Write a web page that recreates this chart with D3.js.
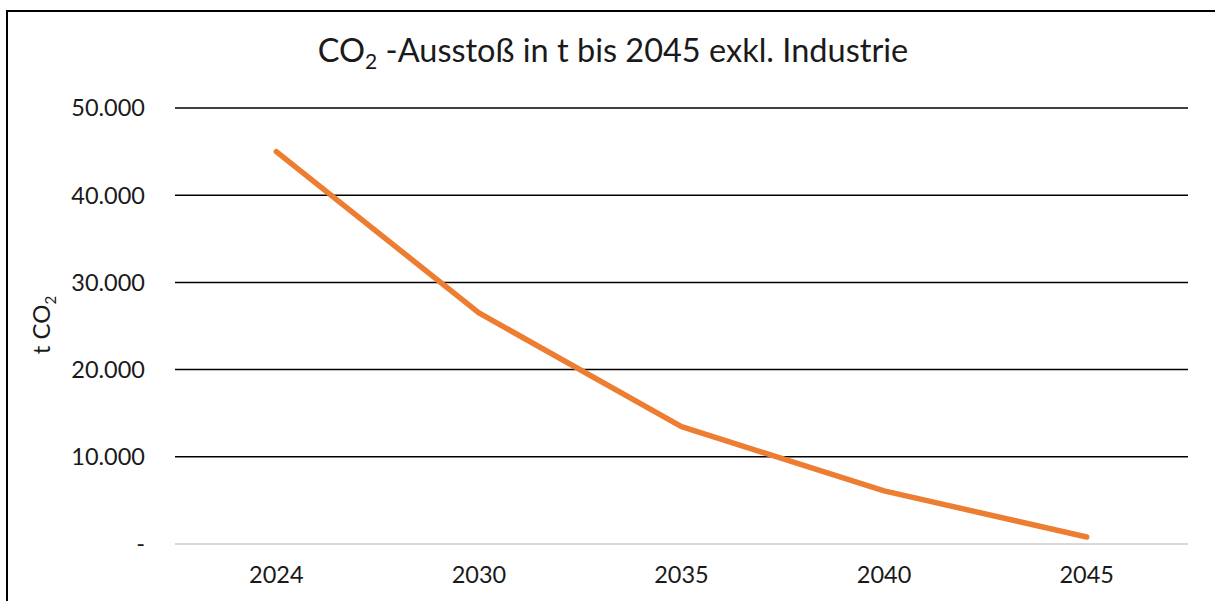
<!DOCTYPE html>
<html>
<head>
<meta charset="utf-8">
<script src="https://cdn.jsdelivr.net/npm/d3@7/dist/d3.min.js"></script>
<style>
  html, body { margin: 0; padding: 0; background: #fff; }
  svg { display: block; }
  text { font-family: Lato, "Open Sans", sans-serif; fill: #1a1a1a; }
</style>
</head>
<body>
<svg id="chart" width="1215" height="601"></svg>
<script>
// CO2 emissions path (t CO2), excluding industry
const years = ["2024", "2030", "2035", "2040", "2045"];
const emissions = [45000, 26500, 13450, 6100, 800];
const yTicks = [0, 10000, 20000, 30000, 40000, 50000];
const yTickLabels = ["-", "10.000", "20.000", "30.000", "40.000", "50.000"];

const svg = d3.select("#chart");
const margin = { left: 175, right: 27, top: 108, bottom: 57 };
const W = 1215, H = 601;

// outer frame of the chart area
svg.append("rect")
  .attr("x", 7).attr("y", 11)
  .attr("width", 1300).attr("height", 700)
  .attr("fill", "none").attr("stroke", "#000").attr("stroke-width", 2);

const x = d3.scaleBand().domain(years)
  .range([margin.left, W - margin.right]);
const y = d3.scaleLinear().domain([0, 50000])
  .range([H - margin.bottom, margin.top]);

// horizontal gridlines
svg.append("g").selectAll("line").data(yTicks).join("line")
  .attr("x1", margin.left).attr("x2", W - margin.right)
  .attr("y1", d => y(d)).attr("y2", d => y(d))
  .attr("stroke", d => d === 0 ? "#d9d9d9" : "#000")
  .attr("stroke-width", d => d === 0 ? 2 : 1.5);

// y tick labels
svg.append("g").selectAll("text").data(yTicks).join("text")
  .attr("x", 145).attr("y", d => y(d))
  .attr("dy", "0.36em")
  .attr("text-anchor", "end")
  .attr("font-size", 23.5)
  .text((d, i) => yTickLabels[i]);

// x category labels
svg.append("g").selectAll("text").data(years).join("text")
  .attr("x", d => x(d) + x.bandwidth() / 2)
  .attr("y", 583)
  .attr("text-anchor", "middle")
  .attr("font-size", 23.5)
  .text(d => d);

// emission line
const line = d3.line()
  .x((d, i) => x(years[i]) + x.bandwidth() / 2)
  .y(d => y(d));
svg.append("path").datum(emissions)
  .attr("d", line)
  .attr("fill", "none")
  .attr("stroke", "#ED7D31")
  .attr("stroke-width", 5.5)
  .attr("stroke-linecap", "round")
  .attr("stroke-linejoin", "round");

// title
const title = svg.append("text")
  .attr("x", 613).attr("y", 62)
  .attr("text-anchor", "middle")
  .attr("font-size", 32.5);
title.append("tspan").text("CO");
title.append("tspan").attr("font-size", 21).attr("dy", 7).text("2");
title.append("tspan").attr("dy", -7).text(" -Ausstoß in t bis 2045 exkl. Industrie");

// y axis title
const yTitle = svg.append("text")
  .attr("transform", "translate(50,325) rotate(-90)")
  .attr("text-anchor", "middle")
  .attr("font-size", 24);
yTitle.append("tspan").text("t CO");
yTitle.append("tspan").attr("font-size", 15).attr("dy", 6).text("2");
</script>
</body>
</html>
